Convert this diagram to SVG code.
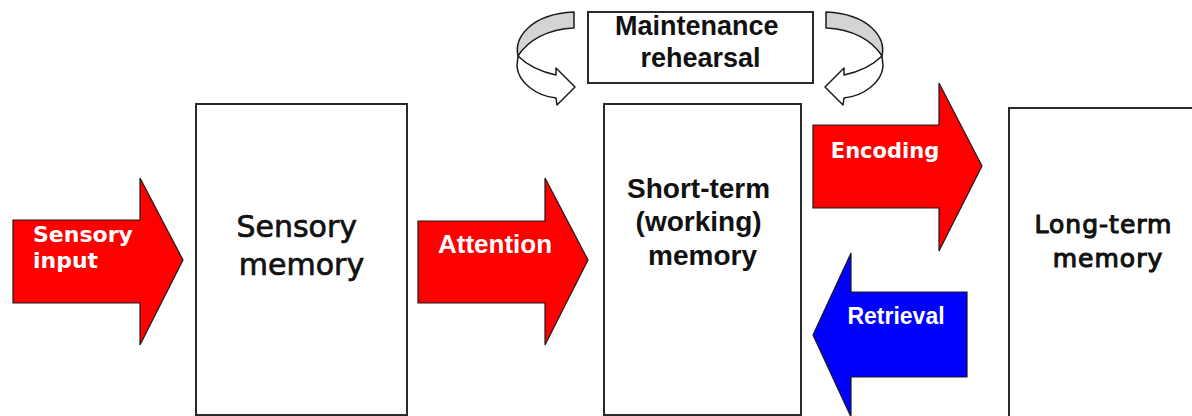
<svg xmlns="http://www.w3.org/2000/svg" width="1192" height="416" viewBox="0 0 1192 416">
  <style>
    .box { fill: #ffffff; stroke: #2a2a2a; stroke-width: 2; }
    .red { fill: #ff0000; stroke: #1a1a1a; stroke-width: 1.2; stroke-linejoin: miter; }
    .blue { fill: #0000ff; stroke: #1a1a1a; stroke-width: 1.2; }
    .loop-back { fill: #d4d4d4; stroke: #1a1a1a; stroke-width: 1.5; stroke-linejoin: round; }
    .loop-front { fill: #ffffff; stroke: #1a1a1a; stroke-width: 1.5; stroke-linejoin: round; }
    .arial { font-family: "Liberation Sans", Arial, sans-serif; font-weight: bold; }
    .wide { font-family: "DejaVu Sans", Verdana, sans-serif; }
    .medium { stroke: #111111; stroke-width: 0.7; }
    .semibold { stroke: #111111; stroke-width: 1.1; }
    .dark { fill: #111111; }
    .light { fill: #ffffff; }
  </style>
  <rect width="1192" height="416" fill="#ffffff"/>

  <!-- Stores -->
  <g id="sensory-memory">
    <rect class="box" x="196" y="104" width="211" height="311"/>
    <text class="wide dark medium" text-anchor="middle" font-size="30">
      <tspan x="301.5" y="237">Sensory</tspan>
      <tspan x="301.5" y="275">memory</tspan>
    </text>
  </g>

  <g id="short-term-memory">
    <rect class="box" x="604" y="104" width="197" height="311"/>
    <text class="arial dark" text-anchor="middle" font-size="28">
      <tspan x="702.5" y="198">Short-term</tspan>
      <tspan x="702.5" y="231">(working)</tspan>
      <tspan x="702.5" y="265">memory</tspan>
    </text>
  </g>

  <g id="long-term-memory">
    <rect class="box" x="1009" y="108" width="200" height="330"/>
    <text class="wide dark semibold" text-anchor="middle" font-size="25" letter-spacing="1">
      <tspan x="1108" y="233">Long-term</tspan>
      <tspan x="1108" y="267">memory</tspan>
    </text>
  </g>

  <g id="maintenance-rehearsal">
    <rect class="box" x="588" y="12" width="225" height="71"/>
    <text class="arial dark" text-anchor="middle" font-size="27">
      <tspan x="700.5" y="35">Maintenance</tspan>
      <tspan x="700.5" y="67">rehearsal</tspan>
    </text>
  </g>

  <!-- Flow arrows -->
  <g id="connectors">
    <g id="sensory-input">
      <polygon class="red" points="13,220 140,220 140,178 183,260 140,345 140,303 13,303"/>
      <text class="wide light" font-size="22" font-weight="bold">
        <tspan x="33" y="242">Sensory</tspan>
        <tspan x="33" y="268">input</tspan>
      </text>
    </g>

    <g id="attention">
      <polygon class="red" points="418,221 545,221 545,178 588,260 545,345 545,303 418,303"/>
      <text class="arial light" x="495" y="253" text-anchor="middle" font-size="26">Attention</text>
    </g>

    <g id="encoding">
      <polygon class="red" points="813,125 939,125 939,83 982,166 939,251 939,208 813,208"/>
      <text class="wide light" x="885" y="158" text-anchor="middle" font-size="21" font-weight="bold">Encoding</text>
    </g>

    <g id="retrieval">
      <polygon class="blue" points="967,292 851,292 851,253 813,335 851,417 851,377 967,377"/>
      <text class="arial light" x="896" y="324" text-anchor="middle" font-size="23">Retrieval</text>
    </g>

    <!-- Rehearsal loops on either side of the label -->
    <g id="loop-left">
      <path class="loop-back" d="M574,12 L574,28 C548,29 528,40 518,56 C514,38 530,14 574,12 Z"/>
      <path class="loop-front" d="M518,56 C528,66 542,72 556,75 L556,68 L575,87 L557,105 L556,98 C536,96 518,82 517,66 Z"/>
    </g>
    <g id="loop-right">
      <path class="loop-back" d="M826,12 L826,28 C852,29 872,40 882,56 C886,38 870,14 826,12 Z"/>
      <path class="loop-front" d="M882,56 C872,66 858,72 844,75 L844,68 L825,87 L843,105 L844,98 C864,96 882,82 883,66 Z"/>
    </g>
  </g>
</svg>
